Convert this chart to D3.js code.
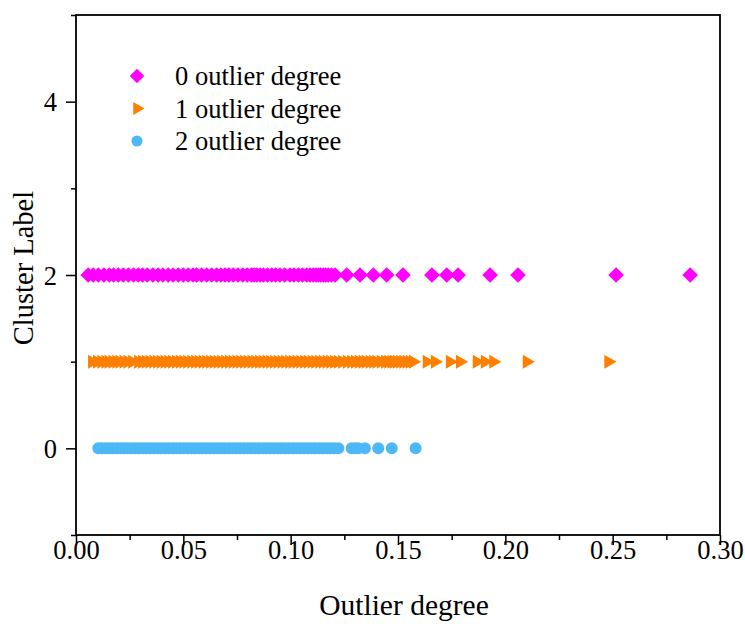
<!DOCTYPE html>
<html>
<head>
<meta charset="utf-8">
<script src="https://cdn.jsdelivr.net/npm/d3@7"></script>
<style>
body { margin: 0; background: #fff; }
svg { display: block; }
text { font-family: "Liberation Serif", "Times New Roman", serif; fill: #000; }
</style>
</head>
<body>
<svg id="chart" width="745" height="624"></svg>
<script>
// 数据：每个离群度组的横坐标（Outlier degree），纵坐标为聚类标签
var seriesNames = ['0 outlier degree', '1 outlier degree', '2 outlier degree'];
var seriesLabels = [2, 1, 0];
var seriesColors = ['#ff00ff', '#ff8000', '#4db8f8'];

var degree0 = [0.0057, 0.0080, 0.0104, 0.0130, 0.0155, 0.0175, 0.0197, 0.0220, 0.0244, 0.0268,
    0.0290, 0.0310, 0.0332, 0.0358, 0.0383, 0.0405, 0.0430, 0.0452, 0.0477, 0.0500,
    0.0523, 0.0545, 0.0562, 0.0585, 0.0609, 0.0632, 0.0655, 0.0675, 0.0694, 0.0712,
    0.0733, 0.0755, 0.0777, 0.0798, 0.0818, 0.0830, 0.0842, 0.0858, 0.0873, 0.0892,
    0.0912, 0.0930, 0.0950, 0.0972, 0.0997, 0.1015, 0.1036, 0.1055, 0.1075, 0.1090,
    0.1105, 0.1118, 0.1129, 0.1140, 0.1152, 0.1163, 0.1175, 0.1190, 0.1207, 0.1261,
    0.1323, 0.1385, 0.1447, 0.1523, 0.1658, 0.1727, 0.1780, 0.1929, 0.2059, 0.2516,
    0.2861];

var degree1 = [0.0075, 0.0098, 0.0118, 0.0137, 0.0152, 0.0170, 0.0188, 0.0203, 0.0222, 0.0240,
    0.0262, 0.0290, 0.0308, 0.0325, 0.0342, 0.0360, 0.0378, 0.0395, 0.0413, 0.0430,
    0.0447, 0.0466, 0.0484, 0.0500, 0.0518, 0.0537, 0.0555, 0.0572, 0.0590, 0.0607,
    0.0625, 0.0642, 0.0660, 0.0677, 0.0695, 0.0713, 0.0730, 0.0748, 0.0765, 0.0783,
    0.0800, 0.0818, 0.0835, 0.0853, 0.0870, 0.0888, 0.0905, 0.0923, 0.0940, 0.0958,
    0.0975, 0.0993, 0.1010, 0.1028, 0.1045, 0.1063, 0.1080, 0.1098, 0.1115, 0.1133,
    0.1150, 0.1168, 0.1185, 0.1203, 0.1220, 0.1240, 0.1262, 0.1282, 0.1300, 0.1318,
    0.1335, 0.1350, 0.1368, 0.1385, 0.1400, 0.1420, 0.1440, 0.1455, 0.1470, 0.1482,
    0.1495, 0.1510, 0.1525, 0.1540, 0.1555, 0.1570, 0.1634, 0.1672, 0.1742, 0.1789,
    0.1867, 0.1905, 0.1944, 0.2100, 0.2480];

var degree2 = [0.0104, 0.0120, 0.0138, 0.0155, 0.0172, 0.0190, 0.0207, 0.0224, 0.0240, 0.0258,
    0.0275, 0.0292, 0.0310, 0.0327, 0.0344, 0.0362, 0.0380, 0.0397, 0.0414, 0.0432,
    0.0450, 0.0467, 0.0484, 0.0502, 0.0520, 0.0537, 0.0554, 0.0572, 0.0590, 0.0607,
    0.0624, 0.0642, 0.0660, 0.0677, 0.0694, 0.0712, 0.0730, 0.0747, 0.0764, 0.0782,
    0.0800, 0.0817, 0.0834, 0.0852, 0.0870, 0.0887, 0.0904, 0.0922, 0.0940, 0.0957,
    0.0974, 0.0992, 0.1010, 0.1027, 0.1044, 0.1062, 0.1080, 0.1097, 0.1114, 0.1132,
    0.1150, 0.1167, 0.1185, 0.1203, 0.1222, 0.1284, 0.1300, 0.1315, 0.1346, 0.1408,
    0.1471, 0.1582];

var seriesData = [degree0, degree1, degree2];

var xTicks = [0, 0.05, 0.10, 0.15, 0.20, 0.25, 0.30];
var xMinorTicks = [0.025, 0.075, 0.125, 0.175, 0.225, 0.275];
var yTicks = [0, 2, 4];
var yMinorTicks = [-1, 1, 3, 5];

var margin = {left: 76, top: 15, right: 25, bottom: 89};
var width = 745, height = 624;
var svg = d3.select('#chart');

var x = d3.scaleLinear().domain([0, 0.3]).range([margin.left, width - margin.right]);
var y = d3.scaleLinear().domain([-1, 5]).range([height - margin.bottom, margin.top]);

// 坐标轴 刻度
var xAxis = svg.append('g')
    .attr('transform', 'translate(0,' + y(-1) + ')')
    .call(d3.axisBottom(x).tickValues(xTicks).tickSize(10).tickSizeOuter(0)
        .tickFormat(d3.format('.2f')));
svg.append('g')
    .attr('transform', 'translate(0,' + y(-1) + ')')
    .call(d3.axisBottom(x).tickValues(xMinorTicks).tickSize(5).tickSizeOuter(0).tickFormat(''));

var yAxis = svg.append('g')
    .attr('transform', 'translate(' + x(0) + ',0)')
    .call(d3.axisLeft(y).tickValues(yTicks).tickSize(10).tickSizeOuter(0)
        .tickFormat(d3.format('d')));
svg.append('g')
    .attr('transform', 'translate(' + x(0) + ',0)')
    .call(d3.axisLeft(y).tickValues(yMinorTicks).tickSize(5).tickSizeOuter(0).tickFormat(''));

svg.selectAll('.domain').remove();
svg.selectAll('.tick line').attr('stroke', '#000').attr('stroke-width', 1.5);
xAxis.selectAll('text')
    .attr('font-size', 26.5)
    .attr('fill', '#000')
    .attr('dy', 0).attr('y', 24);
yAxis.selectAll('text')
    .attr('font-size', 26.5)
    .attr('fill', '#000')
    .attr('x', -19).attr('dy', '0.34em');

// 边框
svg.append('rect')
    .attr('x', x(0))
    .attr('y', y(5))
    .attr('width', x(0.3) - x(0))
    .attr('height', y(-1) - y(5))
    .attr('fill', 'none')
    .attr('stroke', '#000')
    .attr('stroke-width', 1.8);

// 标记形状
var symbols = [
    {type: d3.symbolSquare, size: 123, rotate: 45},
    {type: d3.symbolTriangle, size: 85, rotate: 90},
    {type: d3.symbolCircle, size: 113, rotate: 0}
];

var plot = svg.append('g').attr('id', 'points');
for (var i = 0; i < seriesData.length; i++) {
    var sym = symbols[i];
    var path = d3.symbol().type(sym.type).size(sym.size)();
    plot.append('g').selectAll('path')
        .data(seriesData[i])
        .enter()
        .append('path')
        .attr('d', path)
        .attr('fill', seriesColors[i])
        .attr('transform', function (d) {
            return 'translate(' + x(d) + ',' + y(seriesLabels[i]) + ') rotate(' + sym.rotate + ')';
        });
}

// 图例
var legend = svg.append('g').attr('id', 'legend');
for (var j = 0; j < seriesNames.length; j++) {
    var ly = 76 + j * 32.5;
    legend.append('path')
        .attr('d', d3.symbol().type(symbols[j].type).size(symbols[j].size * 0.85)())
        .attr('fill', seriesColors[j])
        .attr('transform', 'translate(137,' + ly + ') rotate(' + symbols[j].rotate + ')');
    legend.append('text')
        .attr('x', 175)
        .attr('y', ly)
        .attr('dy', '0.34em')
        .attr('font-size', 26.5)
        .text(seriesNames[j]);
}

// 轴标题
svg.append('text')
    .attr('x', (x(0) + x(0.3)) / 2 + 6)
    .attr('y', 615)
    .attr('text-anchor', 'middle')
    .attr('font-size', 29.5)
    .text('Outlier degree');

svg.append('text')
    .attr('transform', 'translate(33,' + 268 + ') rotate(-90)')
    .attr('text-anchor', 'middle')
    .attr('font-size', 28.5)
    .text('Cluster Label');
</script>
</body>
</html>
